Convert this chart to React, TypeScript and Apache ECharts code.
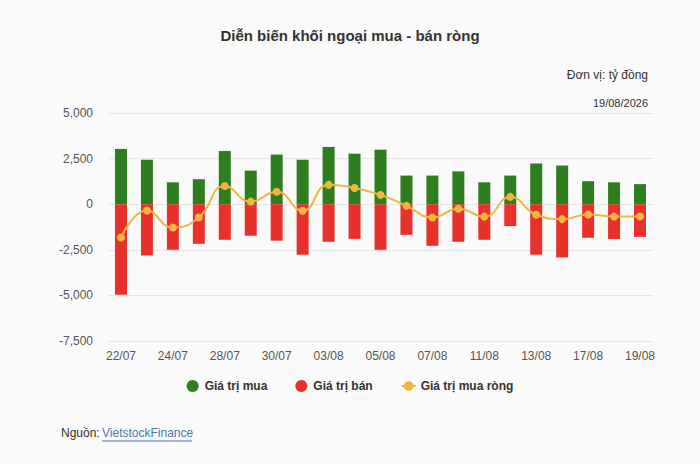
import React, { useEffect, useRef } from "react";
import * as echarts from "echarts";

const categories = [
  "22/07", "23/07", "24/07", "27/07", "28/07", "29/07", "30/07", "31/07",
  "03/08", "04/08", "05/08", "06/08", "07/08", "10/08", "11/08", "12/08",
  "13/08", "14/08", "17/08", "18/08", "19/08",
];
const buyValues = [
  3030, 2440, 1200, 1370, 2920, 1840, 2720, 2440, 3140, 2770, 2990,
  1570, 1570, 1800, 1200, 1570, 2230, 2120, 1260, 1200, 1100,
];
const sellValues = [
  -4960, -2810, -2500, -2170, -1950, -1730, -2000, -2770, -2060, -1900, -2500,
  -1680, -2280, -2060, -1950, -1200, -2770, -2920, -1840, -1910, -1790,
];
const netValues = [
  -1830, -350, -1280, -730, 1000, 140, 680, -360, 1060, 890, 510,
  -90, -730, -250, -680, 400, -580, -820, -570, -680, -670,
];
const yTicks = { min: -7500, max: 5000, interval: 2500 };

const FONT = "'Liberation Sans', Arial, Helvetica, sans-serif";

export default function App() {
  const ref = useRef<HTMLDivElement>(null);
  useEffect(() => {
    document.body.style.margin = "0";
    const chart = echarts.init(ref.current!, null, { renderer: "svg" });
    chart.setOption({
      animation: false,
      backgroundColor: "#fafafa",
      textStyle: { fontFamily: FONT },
      title: {
        text: "Diễn biến khối ngoại mua - bán ròng",
        left: "center",
        top: 23,
        textStyle: { fontSize: 15, fontWeight: "bold", color: "#333", fontFamily: FONT },
      },
      graphic: [
        {
          type: "text",
          right: 52,
          top: 69,
          style: { text: "Đơn vị: tỷ đồng", fontSize: 12, fill: "#333", fontFamily: FONT },
        },
        {
          type: "text",
          right: 52,
          top: 97,
          style: { text: "19/08/2026", fontSize: 11, fill: "#333", fontFamily: FONT },
        },
        {
          type: "text",
          left: 61,
          top: 427,
          style: { text: "Nguồn: ", fontSize: 12, fill: "#333", fontFamily: FONT },
        },
        {
          type: "text",
          left: 102,
          top: 427,
          style: { text: "VietstockFinance", fontSize: 12, fill: "#4a78b0", fontFamily: FONT },
        },
        {
          type: "line",
          shape: { x1: 102, y1: 441, x2: 192, y2: 441 },
          style: { stroke: "#4a78b0", lineWidth: 1 },
        },
      ],
      legend: {
        bottom: 67,
        left: "center",
        itemGap: 28,
        itemWidth: 14,
        itemHeight: 12,
        textStyle: { fontSize: 12, fontWeight: "bold", color: "#333", fontFamily: FONT },
        data: [
          { name: "Giá trị mua", icon: "circle" },
          { name: "Giá trị bán", icon: "circle" },
          { name: "Giá trị mua ròng" },
        ],
      },
      grid: { left: 108, right: 47, top: 113, bottom: 123 },
      xAxis: {
        type: "category",
        data: categories,
        axisTick: { show: false },
        axisLine: { show: false },
        axisLabel: { interval: 1, color: "#555", fontSize: 12, margin: 9, fontFamily: FONT },
      },
      yAxis: {
        type: "value",
        min: yTicks.min,
        max: yTicks.max,
        interval: yTicks.interval,
        axisLabel: {
          color: "#555",
          fontSize: 12,
          margin: 15,
          fontFamily: FONT,
          formatter: (v: number) => v.toLocaleString("en-US"),
        },
        splitLine: { lineStyle: { color: "#e6e6e6" } },
        axisLine: { show: false },
        axisTick: { show: false },
      },
      series: [
        {
          name: "Giá trị mua",
          type: "bar",
          stack: "total",
          barWidth: 12,
          data: buyValues,
          itemStyle: { color: "#2e7d1f" },
        },
        {
          name: "Giá trị bán",
          type: "bar",
          stack: "total",
          barWidth: 12,
          data: sellValues,
          itemStyle: { color: "#e8312a" },
        },
        {
          name: "Giá trị mua ròng",
          type: "line",
          smooth: true,
          data: netValues,
          symbol: "circle",
          symbolSize: 8,
          lineStyle: { width: 2, color: "#f2b540" },
          itemStyle: { color: "#f2b540" },
          z: 5,
        },
      ],
    });
    return () => chart.dispose();
  }, []);
  return <div ref={ref} style={{ width: 700, height: 464 }} />;
}
